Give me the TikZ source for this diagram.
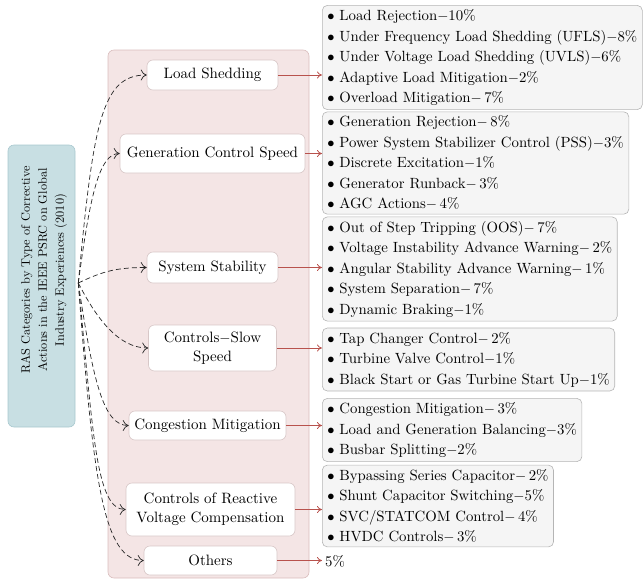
\documentclass[tikz,border=0pt]{standalone}
\usepackage{fontspec}
\setmainfont{lmroman10-regular.otf}
\usetikzlibrary{arrows.meta}
\definecolor{bluebox}{HTML}{C8DFE3}
\definecolor{blueline}{HTML}{A8C8CF}
\definecolor{pinkfill}{HTML}{F4E5E5}
\definecolor{pinkline}{HTML}{D9BDBD}
\definecolor{catline}{HTML}{D8C8C8}
\definecolor{listfill}{HTML}{F5F5F5}
\definecolor{listline}{HTML}{B5B5B5}
\definecolor{redarrow}{HTML}{B8524D}
\begin{document}
\begin{tikzpicture}[x=1pt,y=-1pt,
  cat/.style={draw=catline, fill=white, rounded corners=6pt, align=center, inner sep=0pt,
    font=\fontsize{15}{19}\selectfont, line width=0.6pt},
  listbox/.style={draw=listline, fill=listfill, rounded corners=5pt, align=left, anchor=west,
    inner xsep=5pt, inner ysep=4pt, font=\fontsize{14.8}{20.5}\selectfont, line width=0.6pt},
  dasharrow/.style={draw=black!85, line width=0.7pt, dash pattern=on 5pt off 3pt,
    -{Computer Modern Rightarrow[length=6pt,width=11pt]}},
  redarr/.style={draw=redarrow, line width=0.8pt,
    -{Computer Modern Rightarrow[length=5pt,width=7pt]}}
]
\useasboundingbox (0,0) rectangle (643,579);
\draw[pinkline, fill=pinkfill, rounded corners=6pt, line width=0.6pt] (108,50) rectangle (309,578);

\node[rotate=90, draw=blueline, fill=bluebox, rounded corners=6pt, minimum width=282pt,
  minimum height=67pt, inner sep=0pt, line width=0.6pt] (ras) at (41.5,286) {};
\node[rotate=90, inner sep=0pt, align=center, font=\fontsize{12.3}{17}\selectfont] (rastext) at (44,270)
  {RAS Categories by Type of Corrective\\Actions in the IEEE PSRC on Global\\Industry Experiences (2010)};
\coordinate (src) at ([shift={(3,-3)}]ras.south);

\node[cat, minimum width=131pt, minimum height=30pt] (ls) at (212.5,75) {Load Shedding};
\node[cat, minimum width=185pt, minimum height=39pt] (gcs) at (212.5,153.5) {Generation Control Speed};
\node[cat, minimum width=131pt, minimum height=31pt] (ss) at (212.5,267.5) {System Stability};
\node[cat, minimum width=128pt, minimum height=46pt] (css) at (212.5,348) {Controls$-$Slow\\Speed};
\node[cat, minimum width=157pt, minimum height=29pt] (cm) at (207.5,425.5) {Congestion Mitigation};
\node[cat, minimum width=169pt, minimum height=53pt] (cr) at (210.5,509.5) {Controls of Reactive\\Voltage Compensation};
\node[cat, minimum width=133pt, minimum height=29pt] (ot) at (210.5,560.5) {Others};

\node[listbox] (l1) at (322,57.5) {$\bullet$ Load Rejection$-$10\%\\
$\bullet$ Under Frequency Load Shedding (UFLS)$-$8\%\\
$\bullet$ Under Voltage Load Shedding (UVLS)$-$6\%\\
$\bullet$ Adaptive Load Mitigation$-$2\%\\
$\bullet$ Overload Mitigation$-$\,7\%};
\node[listbox] (l2) at (322,163) {$\bullet$ Generation Rejection$-$\,8\%\\
$\bullet$ Power System Stabilizer Control (PSS)$-$3\%\\
$\bullet$ Discrete Excitation$-$1\%\\
$\bullet$ Generator Runback$-$\,3\%\\
$\bullet$ AGC Actions$-$\,4\%};
\node[listbox] (l3) at (322,269) {$\bullet$ Out of Step Tripping (OOS)$-$\,7\%\\
$\bullet$ Voltage Instability Advance Warning$-$\,2\%\\
$\bullet$ Angular Stability Advance Warning$-$\,1\%\\
$\bullet$ System Separation$-$\,7\%\\
$\bullet$ Dynamic Braking$-$1\%};
\node[listbox] (l4) at (322,359.5) {$\bullet$ Tap Changer Control$-$\,2\%\\
$\bullet$ Turbine Valve Control$-$1\%\\
$\bullet$ Black Start or Gas Turbine Start Up$-$1\%};
\node[listbox] (l5) at (322,430) {$\bullet$ Congestion Mitigation$-$\,3\%\\
$\bullet$ Load and Generation Balancing$-$3\%\\
$\bullet$ Busbar Splitting$-$2\%};
\node[listbox] (l6) at (322,506) {$\bullet$ Bypassing Series Capacitor$-$\,2\%\\
$\bullet$ Shunt Capacitor Switching$-$5\%\\
$\bullet$ SVC/STATCOM Control$-$\,4\%\\
$\bullet$ HVDC Controls$-$\,3\%};
\node[anchor=west, inner sep=3pt, font=\fontsize{14.8}{18}\selectfont] (p5) at (322,561) {5\%};

\draw[redarr] (ls.east) -- (ls.east -| l1.west);
\draw[redarr] (gcs.east) -- (gcs.east -| l2.west);
\draw[redarr] (ss.east) -- (ss.east -| l3.west);
\draw[redarr] (css.east) -- (css.east -| l4.west);
\draw[redarr] (cm.east) -- (cm.east -| l5.west);
\draw[redarr] (cr.east) -- (cr.east -| l6.west);
\draw[redarr] (ot.east) -- (ot.east -| p5.west);

\draw[dasharrow] (src) .. controls +(15,-160) and +(-45,0) .. (ls.west);
\draw[dasharrow] (src) .. controls +(12,-90) and +(-20,0) .. (gcs.west);
\draw[dasharrow] (src) .. controls +(25,-12) and +(-30,0) .. (ss.west);
\draw[dasharrow] (src) .. controls +(18,35) and +(-30,0) .. (css.west);
\draw[dasharrow] (src) .. controls +(15,100) and +(-25,0) .. (cm.west);
\draw[dasharrow] (src) .. controls +(15,150) and +(-30,0) .. (cr.west);
\draw[dasharrow] (src) .. controls +(15,200) and +(-40,0) .. (ot.west);
\end{tikzpicture}
\end{document}
